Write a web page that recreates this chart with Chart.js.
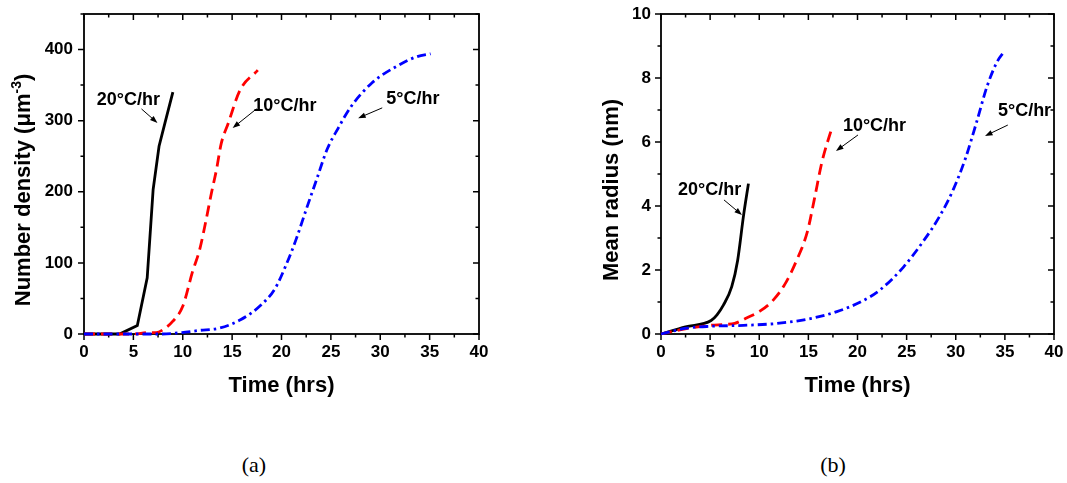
<!DOCTYPE html>
<html>
<head>
<meta charset="utf-8">
<script src="https://cdn.jsdelivr.net/npm/chart.js@4.4.1/dist/chart.umd.min.js"></script>
<style>
  html, body { margin: 0; padding: 0; background: #fff; }
  body { width: 1067px; height: 483px; position: relative; overflow: hidden; }
  .panel { position: absolute; top: 0; height: 410px; }
  #panel-a { left: 0; width: 500px; }
  #panel-b { left: 560px; width: 507px; }
  .caption {
    position: absolute; top: 453px; width: 60px; text-align: center;
    font: 22px/24px "Liberation Serif", "Times New Roman", serif; color: #000;
  }
</style>
</head>
<body>
<div class="panel" id="panel-a"><canvas id="chart-density"></canvas></div>
<div class="panel" id="panel-b"><canvas id="chart-radius"></canvas></div>
<div class="caption" style="left:224px">(a)</div>
<div class="caption" style="left:803px">(b)</div>

<script>
// axis ticks
var timeTicks = [0, 5, 10, 15, 20, 25, 30, 35, 40];
var densityTicks = [0, 100, 200, 300, 400];
var radiusTicks = [0, 2, 4, 6, 8, 10];

// (a) number density, um^-3
var dens20Time = [0, 3.6, 5.4, 6.4, 7.0, 7.6, 8.2, 9.0];
var dens20 = [0, 0, 12, 79, 203, 264, 297, 340];
var dens10Time = [0, 5.0, 6.5, 7.3, 8.0, 9.0, 10.0, 11.0, 11.7, 12.3, 12.9, 13.4, 13.9, 14.6, 15.8, 17.6];
var dens10 = [0, 0, 2, 2, 6, 18, 39, 88, 118, 156, 198, 230, 268, 296, 343, 371];
var dens5Time = [0, 7.8, 9.9, 11.65, 13.75, 15.85, 17.95, 19.35, 20.4, 21.45, 22.5, 23.55, 24.6, 25.8, 27.05, 29.15, 31.6, 33.7, 35.1];
var dens5 = [0, 0, 2, 5, 8.4, 20, 41, 64, 95, 132, 175, 217, 259, 291, 320, 353, 376, 390, 394];

// (b) mean radius, nm
var rad20Time = [0, 2.5, 5.1, 5.7, 6.35, 7.2, 7.8, 8.4, 8.9];
var rad20 = [0, 0.22, 0.42, 0.6, 0.9, 1.48, 2.3, 3.7, 4.7];
var rad10Time = [0, 2.6, 5.0, 6.5, 7.5, 8.7, 10.1, 11.4, 12.6, 13.8, 14.9, 15.6, 16.4, 17.4];
var rad10 = [0, 0.17, 0.27, 0.3, 0.33, 0.5, 0.72, 1.05, 1.55, 2.3, 3.2, 4.2, 5.4, 6.45];
var rad5Time = [0, 2.6, 5.0, 8.4, 11.8, 15.2, 17.9, 20.3, 22.3, 24.7, 26.7, 28.4, 29.8, 31.0, 32.1, 33.2, 34.2, 35.0];
var rad5 = [0, 0.18, 0.24, 0.27, 0.33, 0.48, 0.7, 1.0, 1.38, 2.1, 2.9, 3.7, 4.55, 5.5, 6.6, 7.75, 8.5, 8.85];

var FONT = "'Liberation Sans', Arial, sans-serif";
Chart.defaults.font.family = FONT;
Chart.defaults.color = "#000";

function pairs(xs, ys) {
  return xs.map(function (x, i) { return { x: x, y: ys[i] }; });
}

function isMajor(v, step) {
  var r = v / step;
  return Math.abs(r - Math.round(r)) < 1e-6;
}

function arrow(ctx, x1, y1, x2, y2) {
  var ang = Math.atan2(y2 - y1, x2 - x1);
  ctx.beginPath();
  ctx.moveTo(x1, y1);
  ctx.lineTo(x2 - 5 * Math.cos(ang), y2 - 5 * Math.sin(ang));
  ctx.stroke();
  ctx.beginPath();
  ctx.moveTo(x2, y2);
  ctx.lineTo(x2 - 8 * Math.cos(ang - 0.35), y2 - 8 * Math.sin(ang - 0.35));
  ctx.lineTo(x2 - 8 * Math.cos(ang + 0.35), y2 - 8 * Math.sin(ang + 0.35));
  ctx.closePath();
  ctx.fill();
}

// Origin-style frame: ticks out on bottom/left, in on top/right, plus minor ticks
var frameAndNotes = {
  id: "frameAndNotes",
  beforeDatasetsDraw: function (chart, args, opts) {
    var ctx = chart.ctx;
    var a = chart.chartArea;
    var xs = chart.scales.x;
    var ys = chart.scales.y;
    ctx.save();
    ctx.strokeStyle = "#000";
    ctx.lineWidth = 1.8;
    ctx.strokeRect(a.left, a.top, a.right - a.left, a.bottom - a.top);
    ctx.lineWidth = 1.5;
    ctx.beginPath();
    var v, p, len;
    for (v = xs.min; v <= xs.max + 1e-9; v += opts.xMinor) {
      p = xs.getPixelForValue(v);
      len = isMajor(v, opts.xMinor * 2) ? 6 : 3.5;
      ctx.moveTo(p, a.bottom); ctx.lineTo(p, a.bottom + len);
      ctx.moveTo(p, a.top); ctx.lineTo(p, a.top + len);
    }
    for (v = ys.min; v <= ys.max + 1e-9; v += opts.yMinor) {
      p = ys.getPixelForValue(v);
      len = isMajor(v, opts.yMinor * 2) ? 6 : 3.5;
      ctx.moveTo(a.left, p); ctx.lineTo(a.left - len, p);
      ctx.moveTo(a.right, p); ctx.lineTo(a.right - len, p);
    }
    ctx.stroke();
    ctx.restore();
  },
  afterDraw: function (chart, args, opts) {
    var ctx = chart.ctx;
    var xs = chart.scales.x;
    var ys = chart.scales.y;
    ctx.save();
    // y axis title with superscript
    var t = opts.yTitle;
    ctx.translate(t.x, t.y);
    ctx.rotate(-Math.PI / 2);
    ctx.fillStyle = "#000";
    ctx.textBaseline = "middle";
    ctx.textAlign = "left";
    var big = "bold 22px " + FONT;
    var small = "bold 14px " + FONT;
    ctx.font = big;
    var w1 = ctx.measureText(t.main).width;
    var w3 = ctx.measureText(t.tail).width;
    ctx.font = small;
    var w2 = ctx.measureText(t.sup).width;
    var s = -(w1 + w2 + w3) / 2;
    ctx.font = big;
    ctx.fillText(t.main, s, 0);
    ctx.fillText(t.tail, s + w1 + w2, 0);
    ctx.font = small;
    ctx.fillText(t.sup, s + w1, -7);
    ctx.restore();

    // rate labels with arrows
    ctx.save();
    ctx.fillStyle = "#000";
    ctx.strokeStyle = "#000";
    ctx.lineWidth = 1;
    ctx.font = "bold 18px " + FONT;
    ctx.textAlign = "center";
    ctx.textBaseline = "middle";
    opts.notes.forEach(function (n) {
      ctx.fillText(n.text, xs.getPixelForValue(n.x), ys.getPixelForValue(n.y));
      arrow(ctx,
        xs.getPixelForValue(n.from[0]), ys.getPixelForValue(n.from[1]),
        xs.getPixelForValue(n.to[0]), ys.getPixelForValue(n.to[1]));
    });
    ctx.restore();
  }
};

function series(points, color, dash, straight) {
  return {
    data: points,
    borderColor: color,
    borderWidth: 2.8,
    borderDash: dash,
    pointRadius: 0,
    fill: false,
    clip: false,
    tension: straight ? 0 : 0.4,
    cubicInterpolationMode: straight ? "default" : "monotone"
  };
}

function buildChart(canvasId, datasets, cfg) {
  return new Chart(document.getElementById(canvasId), {
    type: "line",
    data: { datasets: datasets },
    plugins: [frameAndNotes],
    options: {
      responsive: true,
      maintainAspectRatio: false,
      animation: false,
      events: [],
      layout: { padding: { top: 14, right: cfg.padRight, bottom: 0, left: 0 } },
      plugins: {
        legend: { display: false },
        tooltip: { enabled: false },
        frameAndNotes: { xMinor: 2.5, yMinor: cfg.yMinor, yTitle: cfg.yTitle, notes: cfg.notes }
      },
      scales: {
        x: {
          type: "linear",
          min: 0,
          max: 40,
          afterBuildTicks: function (s) {
            s.ticks = timeTicks.map(function (v) { return { value: v }; });
          },
          afterFit: function (s) {
            s.height = 76;
            s.paddingLeft = 0;
            s.paddingRight = 0;
          },
          grid: { display: false, drawTicks: false },
          border: { display: false },
          ticks: { padding: 8, maxRotation: 0, autoSkip: false, color: "#000", font: { size: 17, weight: "bold" } },
          title: {
            display: true,
            text: "Time (hrs)",
            color: "#000",
            font: { size: 22, weight: "bold" },
            padding: { top: 0, bottom: 11 }
          }
        },
        y: {
          type: "linear",
          min: 0,
          max: cfg.yMax,
          afterBuildTicks: function (s) {
            s.ticks = cfg.yTicks.map(function (v) { return { value: v }; });
          },
          afterFit: function (s) {
            s.width = cfg.yWidth;
            s.paddingTop = 0;
            s.paddingBottom = 0;
          },
          grid: { display: false, drawTicks: false },
          border: { display: false },
          ticks: { padding: cfg.yPad, autoSkip: false, color: "#000", font: { size: 17, weight: "bold" } }
        }
      }
    }
  });
}

buildChart("chart-density", [
  series(pairs(dens5Time, dens5), "#0000ff", [9, 4, 2.5, 4]),
  series(pairs(dens10Time, dens10), "#ff0000", [11, 6]),
  series(pairs(dens20Time, dens20), "#000000", [], true)
], {
  yMax: 450,
  yTicks: densityTicks,
  yMinor: 50,
  yWidth: 84,
  yPad: 11,
  padRight: 21,
  yTitle: { x: 24, y: 190, main: "Number density (\u03bcm", sup: "-3", tail: ")" },
  notes: [
    { text: "20\u00b0C/hr", x: 4.5, y: 329, from: [5.82, 316.5], to: [7.44, 296.8] },
    { text: "10\u00b0C/hr", x: 20.35, y: 321, from: [17.48, 316.7], to: [15.05, 289.7] },
    { text: "5\u00b0C/hr", x: 33.3, y: 331, from: [30.2, 318], to: [27.76, 303.5] }
  ]
});

buildChart("chart-radius", [
  series(pairs(rad5Time, rad5), "#0000ff", [9, 4, 2.5, 4]),
  series(pairs(rad10Time, rad10), "#ff0000", [11, 6]),
  series(pairs(rad20Time, rad20), "#000000", [])
], {
  yMax: 10,
  yTicks: radiusTicks,
  yMinor: 1,
  yWidth: 101,
  yPad: 10,
  padRight: 13,
  yTitle: { x: 52, y: 190, main: "Mean radius (nm)", sup: "", tail: "" },
  notes: [
    { text: "20\u00b0C/hr", x: 4.94, y: 4.5, from: [6.41, 4.19], to: [8.24, 3.72] },
    { text: "10\u00b0C/hr", x: 21.73, y: 6.5, from: [20.05, 6.22], to: [17.81, 5.72] },
    { text: "5\u00b0C/hr", x: 37.0, y: 6.97, from: [35.3, 6.53], to: [32.98, 6.19] }
  ]
});
</script>
</body>
</html>
